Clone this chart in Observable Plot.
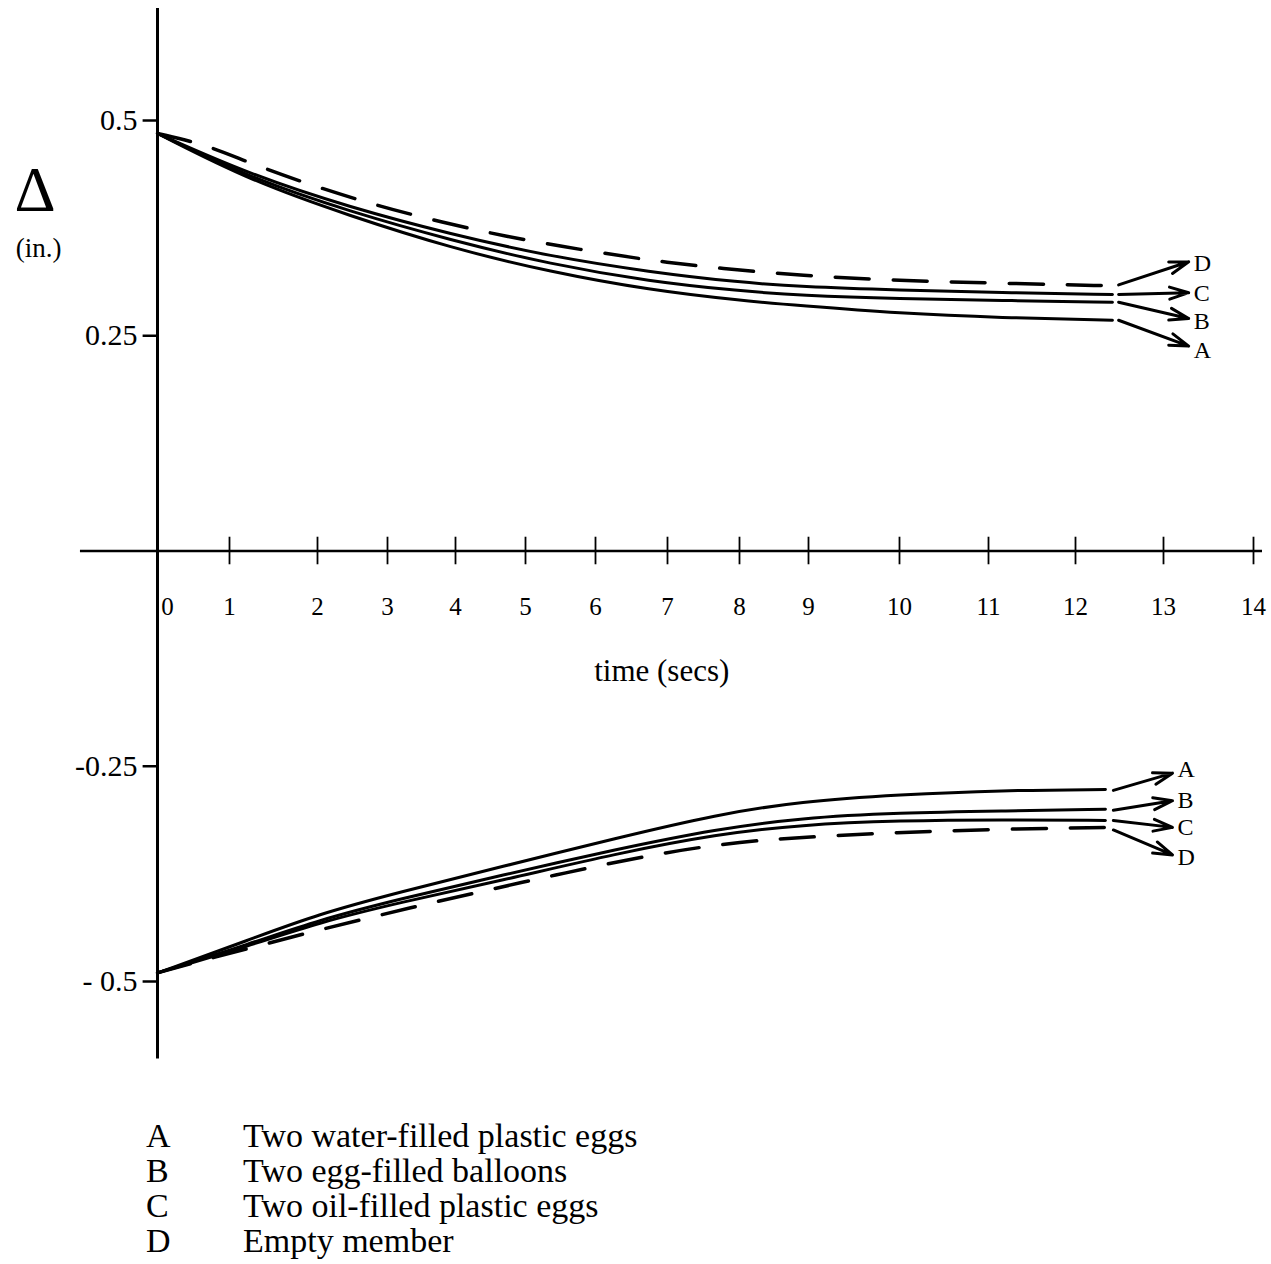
<!DOCTYPE html>
<html>
<head>
<meta charset="utf-8">
<script src="https://cdn.jsdelivr.net/npm/d3@7"></script>
<script src="https://cdn.jsdelivr.net/npm/@observablehq/plot@0.6"></script>
<style>
  body { margin: 0; background: #fff; }
  #wrap { position: relative; width: 1271px; height: 1264px; font-family: "Liberation Serif", "Times New Roman", serif; color: #000; }
  #legend { position: absolute; left: 146px; top: 1118px; font-size: 34px; line-height: 35px; }
  #legend .row { display: flex; height: 35px; align-items: center; }
  #legend .key { width: 97px; }
</style>
</head>
<body>
<div id="wrap"></div>
<script>
// Series keys and their descriptions
const seriesKeys = ["A", "B", "C", "D"];
const seriesNames = [
  "Two water-filled plastic eggs",
  "Two egg-filled balloons",
  "Two oil-filled plastic eggs",
  "Empty member"
];

// Axis ticks
const timeTicks = [0, 1, 2, 3, 4, 5, 6, 7, 8, 9, 10, 11, 12, 13, 14];
const deltaTicks = [0.5, 0.25, -0.25, -0.5];
const deltaTickLabels = ["0.5", "0.25", "-0.25", "- 0.5"];

// Upper envelope (positive deflection), in inches
const upperTime = [0, 1.24, 2.47, 3.93, 5.36, 6.76, 8.0, 8.88, 10.0, 11.14, 12.42];
const upperA = [0.485, 0.430, 0.389, 0.352, 0.324, 0.303, 0.291, 0.285, 0.276, 0.271, 0.268];
const upperB = [0.485, 0.433, 0.394, 0.361, 0.333, 0.313, 0.302, 0.297, 0.293, 0.291, 0.289];
const upperC = [0.485, 0.437, 0.399, 0.368, 0.342, 0.324, 0.312, 0.307, 0.303, 0.300, 0.298];
const upperTimeD = [0, 0.67, 1.24, 1.98, 2.86, 3.78, 4.73, 5.79, 6.79, 7.76, 8.88, 10.0, 11.14, 12.42];
const upperD = [0.485, 0.472, 0.450, 0.423, 0.401, 0.382, 0.365, 0.350, 0.337, 0.328, 0.320, 0.314, 0.311, 0.308];

// Lower envelope (negative deflection), in inches
const lowerTime = [0, 1.24, 2.0, 3.19, 4.64, 6.31, 7.69, 8.88, 10.01, 11.14, 12.34];
const lowerA = [-0.490, -0.451, -0.422, -0.396, -0.367, -0.333, -0.306, -0.291, -0.283, -0.278, -0.277];
const lowerB = [-0.490, -0.456, -0.429, -0.404, -0.377, -0.346, -0.323, -0.310, -0.304, -0.302, -0.300];
const lowerC = [-0.490, -0.458, -0.432, -0.408, -0.383, -0.351, -0.329, -0.318, -0.313, -0.312, -0.313];
const lowerTimeD = [0, 0.6, 1.24, 1.94, 2.74, 3.51, 4.3, 4.99, 5.57, 6.18, 6.99, 7.71, 8.42, 9.05, 9.92, 11.14, 12.34];
const lowerD = [-0.490, -0.476, -0.461, -0.442, -0.426, -0.411, -0.397, -0.384, -0.374, -0.363, -0.350, -0.341, -0.335, -0.332, -0.327, -0.323, -0.321];

// Leader arrows from each curve end to its key letter (A, B, C, D order)
const upperArrowTime = [12.49, 13.28];
const upperArrowFrom = [0.268, 0.289, 0.298, 0.309];
const upperArrowTo = [0.238, 0.270, 0.300, 0.336];
const upperLetterAt = [0.233, 0.267, 0.299, 0.334];
const lowerArrowTime = [12.43, 13.1];
const lowerArrowFrom = [-0.278, -0.301, -0.313, -0.324];
const lowerArrowTo = [-0.258, -0.290, -0.321, -0.353];
const lowerLetterAt = [-0.254, -0.289, -0.321, -0.356];

const toRows = (time, values, key) => time.map((t, i) => ({t, v: values[i], key}));
const solid = [
  ...toRows(upperTime, upperA, "uA"), ...toRows(upperTime, upperB, "uB"), ...toRows(upperTime, upperC, "uC"),
  ...toRows(lowerTime, lowerA, "lA"), ...toRows(lowerTime, lowerB, "lB"), ...toRows(lowerTime, lowerC, "lC")
];
const dashed = [...toRows(upperTimeD, upperD, "uD"), ...toRows(lowerTimeD, lowerD, "lD")];

const arrows = [
  ...seriesKeys.map((k, i) => ({k, t1: upperArrowTime[0], v1: upperArrowFrom[i], t2: upperArrowTime[1], v2: upperArrowTo[i], lv: upperLetterAt[i]})),
  ...seriesKeys.map((k, i) => ({k, t1: lowerArrowTime[0], v1: lowerArrowFrom[i], t2: lowerArrowTime[1], v2: lowerArrowTo[i], lv: lowerLetterAt[i]}))
];

const serif = "Liberation Serif, Times New Roman, serif";

const chart = Plot.plot({
  width: 1271,
  height: 1080,
  style: {background: "#fff", color: "#000"},
  // the hand-ruled time axis spaces its ticks unevenly, so the scale is piecewise
  x: {type: "linear", domain: timeTicks, range: [157, 229, 317, 387, 455, 525, 595, 667, 739, 808, 899, 988, 1075, 1163, 1253], axis: null},
  y: {type: "linear", domain: [-0.5, 0.5], range: [981, 120], axis: null},
  marks: [
    // axes
    Plot.ruleX([0], {x1: 0, y1: -0.59, y2: 0.63, stroke: "#000", strokeWidth: 3}),
    Plot.ruleY([0], {x1: -1.07, x2: 14.1, stroke: "#000", strokeWidth: 2.5}),
    Plot.ruleX(timeTicks.filter(d => d > 0), {x: d => d, y1: -0.016, y2: 0.016, stroke: "#000", strokeWidth: 1.8}),
    Plot.ruleY(deltaTicks, {y: d => d, x1: -0.2, x2: 0, stroke: "#000", strokeWidth: 2.5}),
    Plot.text(timeTicks.filter(d => d > 0), {x: d => d, y: 0, dy: 56, text: d => String(d), fontSize: 25, fontFamily: serif, fill: "#000"}),
    Plot.text([0], {x: 0, y: 0, dy: 56, dx: 10, text: d => String(d), fontSize: 25, fontFamily: serif, fill: "#000"}),
    Plot.text(deltaTicks, {x: 0, y: d => d, dx: -20, text: (d, i) => deltaTickLabels[i], textAnchor: "end", fontSize: 30, fontFamily: serif, fill: "#000"}),
    Plot.text(["time (secs)"], {x: 6.92, y: 0, dy: 120, text: d => d, fontSize: 31, fontFamily: serif, fill: "#000"}),
    Plot.text(["Δ"], {x: -1.70, y: 0.419, text: d => d, fontSize: 64, fontFamily: serif, fill: "#000"}),
    Plot.text(["(in.)"], {x: -1.65, y: 0.352, text: d => d, fontSize: 27, fontFamily: serif, fill: "#000"}),
    // response curves
    Plot.line(solid, {x: "t", y: "v", z: "key", curve: "basis", stroke: "#000", strokeWidth: 3}),
    Plot.line(dashed, {x: "t", y: "v", z: "key", curve: "basis", stroke: "#000", strokeWidth: 3.5, strokeDasharray: "34,24"}),
    // leaders and key letters
    Plot.arrow(arrows, {x1: "t1", y1: "v1", x2: "t2", y2: "v2", stroke: "#000", strokeWidth: 3, headLength: 10, headAngle: 35}),
    Plot.text(arrows, {x: "t2", y: "lv", text: "k", dx: 5, textAnchor: "start", fontSize: 24, fontFamily: serif, fill: "#000"})
  ]
});

const wrap = document.getElementById("wrap");
wrap.appendChild(chart);

const legend = document.createElement("div");
legend.id = "legend";
seriesKeys.forEach((k, i) => {
  const row = document.createElement("div");
  row.className = "row";
  const key = document.createElement("span");
  key.className = "key";
  key.textContent = k;
  const name = document.createElement("span");
  name.textContent = seriesNames[i];
  row.append(key, name);
  legend.appendChild(row);
});
wrap.appendChild(legend);
</script>
</body>
</html>
